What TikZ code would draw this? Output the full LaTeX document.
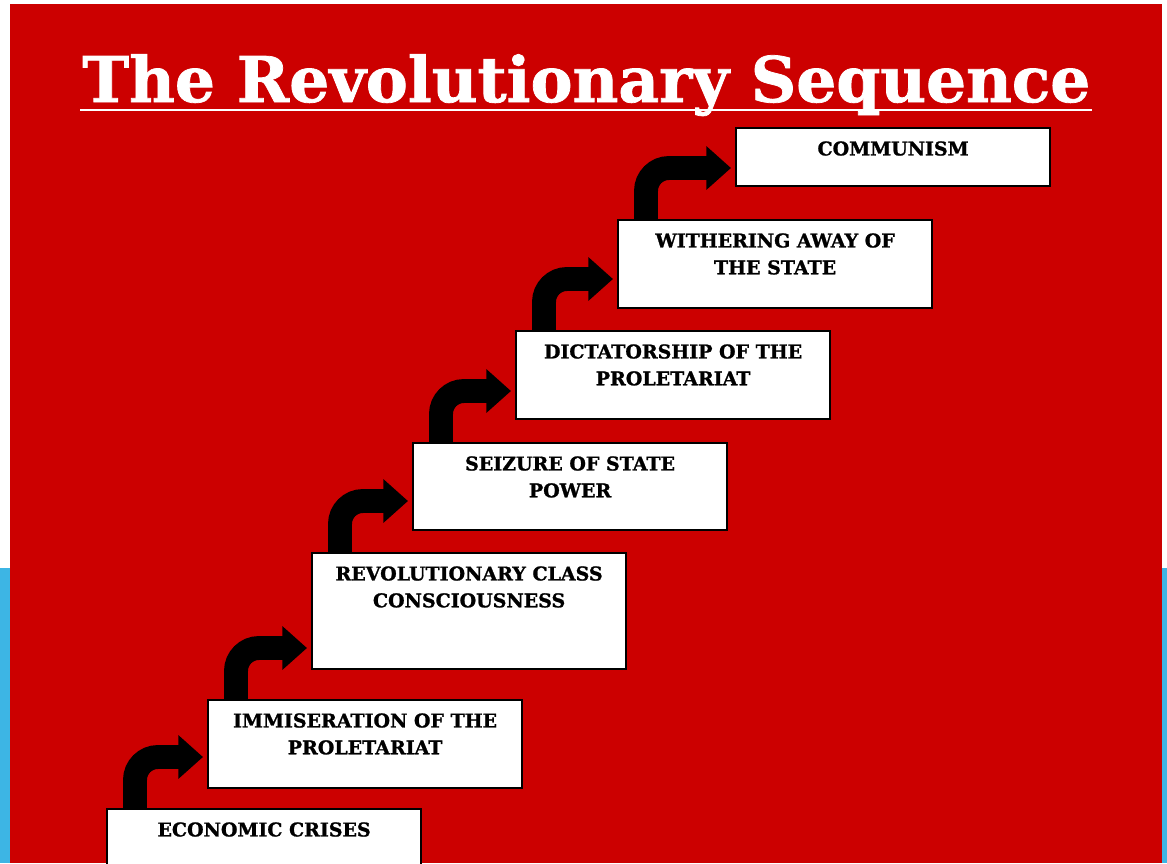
\documentclass[tikz,border=0pt]{standalone}
\usepackage{fontspec}
\usepackage{graphicx}
\setmainfont{DejaVu Serif}
\newfontfamily\heavyserif[FakeBold=1.2]{DejaVu Serif Bold}
\usetikzlibrary{arrows.meta}
\definecolor{slidered}{RGB}{204,0,0}
\definecolor{slideblue}{RGB}{61,181,228}

\begin{document}
\begin{tikzpicture}[x=0.02cm,y=-0.02cm]

\tikzset{
  StepBox/.style = { rectangle, draw = black, line width = 1.3pt, fill = white,
                     anchor = north west, inner sep = 0pt,
                     minimum width = 6.28cm },
  StepText/.style = { anchor = north, yshift = -0.28cm, inner sep = 0pt,
                      align = center,
                      font = \heavyserif\fontsize{10.8}{15.3}\selectfont },
  StepArrow/.style = { line width = 13.6pt, black,
                       -{Triangle[width = 24pt, length = 14pt]} } }

  \useasboundingbox (0,0) rectangle (1167,863);
  \fill[slideblue] (0,568) rectangle (1167,863);
  \fill[slidered] (10,4) rectangle (1162,863);

  % title
  \node[anchor = base west, inner sep = 0pt, text = white] (title) at (82,102)
    {\resizebox{20.16cm}{!}{\heavyserif The Revolutionary Sequence}};
  \draw[white, line width = 1.7pt] (80,110) -- (1092,110);

  \node[StepBox, minimum height = 1.8cm,
        label = {[StepText]north:ECONOMIC CRISES}] (crises) at (106,808) {};
  \node[StepBox, minimum height = 1.76cm,
        label = {[StepText]north:IMMISERATION OF THE\\PROLETARIAT}] (immis) at (207,699) {};
  \node[StepBox, minimum height = 2.32cm,
        label = {[StepText]north:REVOLUTIONARY CLASS\\CONSCIOUSNESS}] (consc) at (311,552) {};
  \node[StepBox, minimum height = 1.74cm,
        label = {[StepText]north:SEIZURE OF STATE\\POWER}] (seize) at (412,442) {};
  \node[StepBox, minimum height = 1.76cm,
        label = {[StepText]north:DICTATORSHIP OF THE\\PROLETARIAT}] (dict) at (515,330) {};
  \node[StepBox, minimum height = 1.76cm,
        label = {[StepText]north:WITHERING AWAY OF\\THE STATE}] (wither) at (617,219) {};
  \node[StepBox, minimum height = 1.16cm,
        label = {[StepText]north:COMMUNISM}] (comm) at (735,127) {};

  % steps up
  \foreach \lo/\hi in {crises/immis, immis/consc, consc/seize,
                       seize/dict, dict/wither, wither/comm}
    \draw[StepArrow] (\lo.north west) ++(29,0) -- ++(0,-28)
      to[out=90, in=180] ++(23,-23) coordinate (bend)
      -- ([xshift=-0.08cm]\hi.west |- bend);

\end{tikzpicture}
\end{document}
